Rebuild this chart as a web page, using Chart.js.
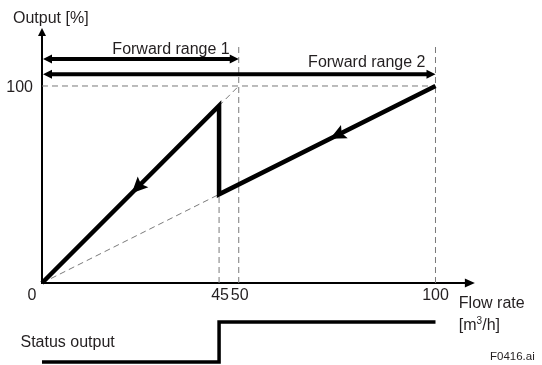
<!DOCTYPE html>
<html><head><meta charset="utf-8">
<script src="https://cdn.jsdelivr.net/npm/chart.js@4/dist/chart.umd.min.js"></script>
<style>html,body{margin:0;padding:0;background:#fff;overflow:hidden}canvas{display:block}</style>
</head><body>
<canvas id="c" width="542" height="365"></canvas>
<script>
// ---------- data ----------
const flowTicks = [0, 45, 50, 100];          // x tick labels [m3/h]
const outputTicks = [100];                   // y tick labels [%]
const curveFlow = [0, 45, 45, 100];          // output characteristic
const curveOutput = [0, 90, 45, 100];
const range1Flow = [0, 50];                  // forward range 1 (span 50 m3/h)
const range1Output = [0, 100];
const range2Flow = [0, 100];                 // forward range 2 (span 100 m3/h)
const range2Output = [0, 100];
const statusFlow = [0, 45, 45, 100];         // status output (0 = off, 1 = on)
const statusValue = [0, 0, 1, 1];
const arrowFlow = [22.8, 73.2];              // direction markers on the curve
const texts = {
  yTitle: 'Output [%]', xTitle: 'Flow rate', unitA: '[m', unitSup: '3', unitB: '/h]',
  range1: 'Forward range 1', range2: 'Forward range 2', status: 'Status output', fig: 'F0416.ai'
};

// ---------- layout / style ----------
const INK = '#000', TXT = '#231f20', GUIDE = '#7a7a7a';
const FONT = '16px "Liberation Sans", Arial, sans-serif';
const LAYOUT = {
  xMin: -10.673, xMax: 127.065, yMin: -41.62, yMax: 143.65, sMin: -0.075, sMax: 9.05,
  xAxisEnd: 110, yAxisEnd: 129.4, range1Row: 113.7, range2Row: 106, guideTop: 121,
  tickOffsets: [-10, 1, 1, 0]
};
const pts = (xs, ys) => xs.map((v, i) => ({x: v, y: ys[i]}));

const dashed = {borderColor: GUIDE, borderWidth: 1, borderDash: [6, 4], pointRadius: 0, fill: false, order: 5};
const datasets = [
  {data: pts(curveFlow, curveOutput), borderColor: INK, borderWidth: 4.5, pointRadius: 0, borderJoinStyle: 'miter', order: 0},
  {data: pts(statusFlow, statusValue), yAxisID: 's', borderColor: INK, borderWidth: 3.5, pointRadius: 0, borderJoinStyle: 'miter', order: 0},
  Object.assign({data: pts(range1Flow, range1Output)}, dashed),
  Object.assign({data: pts(range2Flow, range2Output)}, dashed),
  Object.assign({data: pts([range2Flow[0], range2Flow[1]], [outputTicks[0], outputTicks[0]])}, dashed),
  Object.assign({data: pts([flowTicks[1], flowTicks[1]], [0, curveOutput[1]])}, dashed),
  Object.assign({data: pts([flowTicks[2], flowTicks[2]], [0, LAYOUT.guideTop])}, dashed),
  Object.assign({data: pts([flowTicks[3], flowTicks[3]], [0, LAYOUT.guideTop - 1])}, dashed)
];

function head(ctx, tx, ty, ang, len, half, notch) {
  const dx = Math.cos(ang), dy = Math.sin(ang), nx = -dy, ny = dx;
  ctx.beginPath();
  ctx.moveTo(tx, ty);
  ctx.lineTo(tx - len * dx + half * nx, ty - len * dy + half * ny);
  ctx.lineTo(tx - (len - (notch || 0)) * dx, ty - (len - (notch || 0)) * dy);
  ctx.lineTo(tx - len * dx - half * nx, ty - len * dy - half * ny);
  ctx.closePath();
  ctx.fill();
}

const diagram = {
  id: 'diagram',
  beforeDatasetsDraw(chart) {
    const {ctx, scales: {x, y}} = chart;
    const x0 = x.getPixelForValue(0), y0 = y.getPixelForValue(0);
    const xe = x.getPixelForValue(LAYOUT.xAxisEnd), ye = y.getPixelForValue(LAYOUT.yAxisEnd);
    ctx.save();
    ctx.strokeStyle = INK; ctx.fillStyle = INK; ctx.lineWidth = 2;
    ctx.beginPath();
    ctx.moveTo(x0 - 1, y0); ctx.lineTo(xe - 8, y0);
    ctx.moveTo(x0, y0); ctx.lineTo(x0, ye + 6);
    ctx.stroke();
    head(ctx, xe, y0, 0, 10, 4.5);
    head(ctx, x0, ye, -Math.PI / 2, 8, 4);
    ctx.restore();
  },
  afterDatasetsDraw(chart) {
    const {ctx, scales: {x, y, s}} = chart;
    ctx.save();
    ctx.strokeStyle = INK; ctx.fillStyle = INK;
    // forward range arrows
    [[range1Flow, LAYOUT.range1Row], [range2Flow, LAYOUT.range2Row]].forEach(([r, row]) => {
      const a = x.getPixelForValue(r[0]) + 1, b = x.getPixelForValue(r[1]), yy = y.getPixelForValue(row);
      ctx.lineWidth = 4;
      ctx.beginPath(); ctx.moveTo(a + 6, yy); ctx.lineTo(b - 6, yy); ctx.stroke();
      head(ctx, a, yy, Math.PI, 9, 4.5);
      head(ctx, b, yy, 0, 9, 4.5);
    });
    // direction arrows on the curve
    arrowFlow.forEach(f => {
      for (let i = 0; i < curveFlow.length - 1; i++) {
        if (curveFlow[i] < f && f < curveFlow[i + 1]) {
          const t = (f - curveFlow[i]) / (curveFlow[i + 1] - curveFlow[i]);
          const o = curveOutput[i] + t * (curveOutput[i + 1] - curveOutput[i]);
          const px = x.getPixelForValue(f), py = y.getPixelForValue(o);
          const ax = x.getPixelForValue(curveFlow[i]) - x.getPixelForValue(curveFlow[i + 1]);
          const ay = y.getPixelForValue(curveOutput[i]) - y.getPixelForValue(curveOutput[i + 1]);
          head(ctx, px, py, Math.atan2(ay, ax), 16, 7.5, 3);
          break;
        }
      }
    });
    // texts
    ctx.fillStyle = TXT; ctx.font = FONT; ctx.textBaseline = 'alphabetic';
    ctx.textAlign = 'left';
    ctx.fillText(texts.yTitle, 13, 23);
    ctx.textAlign = 'right';
    outputTicks.forEach(v => ctx.fillText(String(v), x.getPixelForValue(0) - 9, y.getPixelForValue(v) + 6));
    ctx.textAlign = 'center';
    const tb = y.getPixelForValue(0) + 17;
    flowTicks.forEach((v, i) => ctx.fillText(String(v), x.getPixelForValue(v) + LAYOUT.tickOffsets[i], tb));
    ctx.textAlign = 'right';
    ctx.fillText(texts.range1, x.getPixelForValue(range1Flow[1]) - 9, y.getPixelForValue(LAYOUT.range1Row) - 5);
    ctx.fillText(texts.range2, x.getPixelForValue(range2Flow[1]) - 10, y.getPixelForValue(LAYOUT.range2Row) - 7);
    ctx.textAlign = 'left';
    const fx = x.getPixelForValue(LAYOUT.xAxisEnd) - 16;
    ctx.fillText(texts.xTitle, fx, tb + 8);
    ctx.fillText(texts.unitA, fx, tb + 30);
    let w = ctx.measureText(texts.unitA).width;
    ctx.font = '10px "Liberation Sans", Arial, sans-serif';
    ctx.fillText(texts.unitSup, fx + w, tb + 24);
    w += ctx.measureText(texts.unitSup).width;
    ctx.font = FONT;
    ctx.fillText(texts.unitB, fx + w, tb + 30);
    ctx.fillText(texts.status, 20.5, (s.getPixelForValue(0) + s.getPixelForValue(1)) / 2 + 5);
    ctx.font = '11.5px "Liberation Sans", Arial, sans-serif';
    ctx.fillText(texts.fig, 490, 360);
    ctx.restore();
  }
};

new Chart(document.getElementById('c'), {
  type: 'line',
  data: {datasets},
  options: {
    responsive: false, animation: false, devicePixelRatio: 1,
    layout: {padding: 0},
    plugins: {legend: {display: false}, tooltip: {enabled: false}, title: {display: false}},
    elements: {line: {tension: 0, borderCapStyle: 'butt'}},
    scales: {
      x: {type: 'linear', display: false, min: LAYOUT.xMin, max: LAYOUT.xMax},
      y: {type: 'linear', display: false, min: LAYOUT.yMin, max: LAYOUT.yMax},
      s: {type: 'linear', display: false, min: LAYOUT.sMin, max: LAYOUT.sMax}
    }
  },
  plugins: [diagram]
});
</script>
</body></html>
